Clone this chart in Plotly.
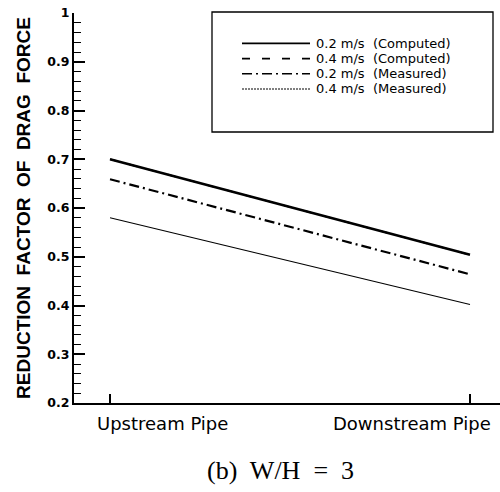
import plotly.graph_objects as go

# ---- data ----
categories = ["Upstream Pipe", "Downstream Pipe"]
series_names = ["0.2 m/s  (Computed)", "0.4 m/s  (Computed)", "0.2 m/s  (Measured)", "0.4 m/s  (Measured)"]
v02_computed = [0.700, 0.504]
v04_computed = [0.700, 0.504]
v02_measured = [0.659, 0.464]
v04_measured = [0.580, 0.402]
y_tickvals = [0.2, 0.3, 0.4, 0.5, 0.6, 0.7, 0.8, 0.9, 1.0]
y_ticktext = ["0.2", "0.3", "0.4", "0.5", "0.6", "0.7", "0.8", "0.9", "1"]
y_title = "REDUCTION  FACTOR  OF  DRAG  FORCE"
caption = "(b)  W/H  =  3"

series_values = [v02_computed, v04_computed, v02_measured, v04_measured]
styles = [
    dict(width=2.6, dash="solid"),
    dict(width=1.6, dash="8px,12px"),
    dict(width=2.2, dash="10px,4px,2px,4px"),
    dict(width=1.1, dash="solid"),
]
draw_order = [1, 0, 2, 3]

fig = go.Figure()
xs = list(range(len(categories)))
for i in draw_order:
    fig.add_trace(go.Scatter(
        x=xs, y=series_values[i], mode="lines", name=series_names[i],
        line=dict(color="black", **styles[i]), showlegend=False,
    ))

FONT = "Liberation Sans, Arial, sans-serif"
WIDE = "DejaVu Sans, Verdana, sans-serif"

fig.update_layout(
    width=500, height=492,
    margin=dict(l=74, r=0, t=13, b=89),
    paper_bgcolor="white", plot_bgcolor="white",
    showlegend=False,
    xaxis=dict(
        range=[-0.1, 1.0833], tickvals=xs, ticktext=["", ""],
        showgrid=False, zeroline=False, showline=True, linecolor="black", linewidth=2,
        ticks="inside", ticklen=9, tickwidth=1.5, tickcolor="black",
    ),
    yaxis=dict(
        range=[0.2, 1.0], tickvals=y_tickvals, ticktext=y_ticktext,
        showgrid=False, zeroline=False, showline=True, linecolor="black", linewidth=2,
        ticks="inside", ticklen=11, tickwidth=1.5, tickcolor="black",
        minor=dict(dtick=0.02, tick0=0.2, ticks="inside", ticklen=7, tickwidth=1, tickcolor="black"),
        tickfont=dict(family=WIDE, size=12.5, color="black", weight="bold"),
        title=dict(text=y_title, font=dict(family=FONT, size=19, color="black", weight="bold"), standoff=12),
    ),
)

# x tick labels as annotations (offset toward the centre, as in the reference)
shifts = [52, -58]
for i, lab in enumerate(categories):
    fig.add_annotation(x=xs[i], y=0, xref="x", yref="paper", yanchor="top", xanchor="center",
                       text=lab, showarrow=False, yshift=-8, xshift=shifts[i],
                       font=dict(family=WIDE, size=18, color="black"))


def px(xp):
    return (xp - 74) / 426


def py(yp):
    return (403 - yp) / 390


# caption
fig.add_annotation(x=px(280), y=py(470), xref="paper", yref="paper",
                   text=caption, showarrow=False, xanchor="center", yanchor="middle",
                   font=dict(family="Liberation Serif, Times New Roman, serif", size=26, color="black"))

# manual legend box
fig.add_shape(type="rect", xref="paper", yref="paper",
              x0=px(212), x1=px(493), y0=py(132), y1=py(12),
              line=dict(color="black", width=1.3), fillcolor="white", layer="below")
row_y = [43.4, 58.6, 73.8, 89.0]
legend_dash = ["solid", "8px,12px", "10px,4px,2px,4px", "2px,1px"]
legend_width = [1.6, 1.6, 1.6, 1.0]
for i, name in enumerate(series_names):
    fig.add_shape(type="line", xref="paper", yref="paper",
                  x0=px(242), x1=px(310), y0=py(row_y[i]), y1=py(row_y[i]),
                  line=dict(color="black", width=legend_width[i], dash=legend_dash[i]))
    fig.add_annotation(x=px(315), y=py(row_y[i]), xref="paper", yref="paper",
                       text=name, showarrow=False, xanchor="left", yanchor="middle",
                       borderpad=0,
                       font=dict(family=WIDE, size=13, color="black"))

fig.write_html("out.html", config={"displayModeBar": False},
               post_script="document.body.style.margin='0';")
